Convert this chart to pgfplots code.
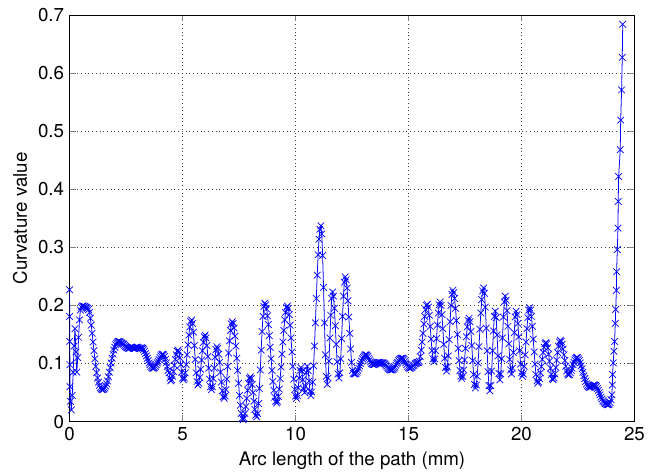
\documentclass[border=0pt]{standalone}
\usepackage{fontspec}
\setmainfont{TeX Gyre Heros}
\usepackage{pgfplots}
\pgfplotsset{compat=1.18}
\begin{document}
\begin{tikzpicture}
\begin{axis}[
  scale only axis,
  width=362.2pt, height=260.7pt,
  xmin=0, xmax=25, ymin=0, ymax=0.7,
  xtick={0,5,10,15,20,25},
  ytick={0,0.1,0.2,0.3,0.4,0.5,0.6,0.7},
  tick align=inside, xtick pos=both, ytick pos=both,
  major tick length=4pt,
  grid=major,
  major grid style={dotted, black!75, line width=0.5pt},
  axis line style={line width=0.5pt},
  /pgf/number format/assume math mode=true,
  ticklabel style={font=\fontsize{12}{14}\selectfont},
  label style={font=\fontsize{12}{14}\selectfont},
  xlabel={Arc length of the path (mm)},
  ylabel={Curvature value},
]
\addplot[color=blue, mark=x, mark size=3pt, line width=0.5pt, mark options={line width=0.45pt}] table {
x y
0.000 0.227
0.005 0.181
0.010 0.138
0.015 0.098
0.020 0.060
0.04 0.035
0.08 0.020
0.12 0.045
0.16 0.085
0.20 0.130
0.24 0.160
0.28 0.120
0.32 0.085
0.36 0.110
0.40 0.145
0.44 0.175
0.48 0.192
0.52 0.197
0.56 0.199
0.60 0.199
0.64 0.198
0.68 0.198
0.72 0.197
0.76 0.196
0.80 0.195
0.84 0.193
0.88 0.188
0.92 0.178
0.96 0.166
1.00 0.152
1.04 0.137
1.08 0.122
1.12 0.108
1.16 0.095
1.20 0.084
1.24 0.075
1.28 0.068
1.32 0.062
1.36 0.058
1.40 0.056
1.44 0.055
1.48 0.055
1.52 0.056
1.56 0.058
1.60 0.061
1.64 0.065
1.68 0.070
1.72 0.077
1.76 0.085
1.80 0.093
1.84 0.101
1.88 0.109
1.92 0.116
1.96 0.123
2.00 0.128
2.04 0.132
2.08 0.135
2.12 0.137
2.16 0.138
2.20 0.138
2.24 0.137
2.28 0.136
2.32 0.135
2.36 0.134
2.40 0.133
2.44 0.131
2.48 0.129
2.52 0.128
2.56 0.127
2.60 0.126
2.64 0.126
2.68 0.127
2.72 0.128
2.76 0.128
2.80 0.127
2.84 0.126
2.88 0.126
2.92 0.127
2.96 0.128
3.00 0.128
3.04 0.127
3.08 0.126
3.12 0.126
3.16 0.127
3.20 0.127
3.24 0.126
3.28 0.124
3.32 0.121
3.36 0.117
3.40 0.113
3.44 0.109
3.48 0.105
3.52 0.101
3.56 0.098
3.60 0.095
3.64 0.093
3.68 0.092
3.72 0.092
3.76 0.093
3.80 0.095
3.84 0.098
3.88 0.101
3.92 0.104
3.96 0.107
4.00 0.110
4.04 0.113
4.08 0.115
4.12 0.116
4.16 0.115
4.20 0.112
4.24 0.107
4.28 0.101
4.32 0.095
4.36 0.088
4.40 0.084
4.44 0.075
4.48 0.070
4.52 0.072
4.56 0.078
4.60 0.086
4.64 0.097
4.68 0.107
4.72 0.115
4.76 0.121
4.80 0.123
4.84 0.120
4.88 0.110
4.92 0.098
4.96 0.085
5.00 0.075
5.04 0.072
5.08 0.075
5.12 0.084
5.16 0.098
5.20 0.115
5.24 0.132
5.28 0.149
5.32 0.163
5.36 0.172
5.40 0.175
5.44 0.169
5.48 0.154
5.52 0.131
5.56 0.107
5.60 0.084
5.64 0.069
5.68 0.063
5.72 0.066
5.76 0.076
5.80 0.090
5.84 0.106
5.88 0.122
5.92 0.136
5.96 0.146
6.00 0.149
6.04 0.144
6.08 0.131
6.12 0.112
6.16 0.092
6.20 0.073
6.24 0.060
6.28 0.055
6.32 0.060
6.36 0.074
6.40 0.092
6.44 0.111
6.48 0.124
6.52 0.129
6.56 0.126
6.60 0.116
6.64 0.102
6.68 0.085
6.72 0.068
6.76 0.053
6.80 0.043
6.84 0.040
6.88 0.044
6.92 0.055
6.96 0.073
7.00 0.095
7.04 0.118
7.08 0.139
7.12 0.157
7.16 0.168
7.20 0.172
7.24 0.169
7.28 0.161
7.32 0.147
7.36 0.130
7.40 0.109
7.44 0.088
7.48 0.066
7.52 0.045
7.56 0.028
7.60 0.014
7.64 0.006
7.68 0.003
7.72 0.006
7.76 0.014
7.80 0.026
7.84 0.040
7.88 0.054
7.92 0.066
7.96 0.074
8.00 0.077
8.04 0.074
8.08 0.064
8.12 0.050
8.16 0.035
8.20 0.021
8.24 0.011
8.28 0.008
8.32 0.014
8.36 0.031
8.40 0.057
8.44 0.089
8.48 0.123
8.52 0.155
8.56 0.181
8.60 0.198
8.64 0.204
8.68 0.201
8.72 0.194
8.76 0.182
8.80 0.167
8.84 0.148
8.88 0.128
8.92 0.108
8.96 0.088
9.00 0.069
9.04 0.054
9.08 0.042
9.12 0.035
9.16 0.032
9.20 0.035
9.24 0.043
9.28 0.056
9.32 0.074
9.36 0.094
9.40 0.116
9.44 0.137
9.48 0.157
9.52 0.175
9.56 0.188
9.60 0.196
9.64 0.199
9.68 0.195
9.72 0.184
9.76 0.166
9.80 0.144
9.84 0.120
9.88 0.095
9.92 0.073
9.96 0.055
10.00 0.044
10.04 0.040
10.08 0.045
10.12 0.058
10.16 0.075
10.20 0.088
10.24 0.093
10.28 0.087
10.32 0.072
10.36 0.056
10.40 0.050
10.44 0.061
10.48 0.084
10.52 0.095
10.56 0.088
10.60 0.070
10.64 0.052
10.68 0.045
10.72 0.051
10.76 0.068
10.80 0.096
10.84 0.130
10.88 0.170
10.92 0.212
10.96 0.252
11.00 0.287
11.04 0.314
11.08 0.331
11.12 0.337
11.16 0.323
11.20 0.286
11.24 0.231
11.28 0.170
11.32 0.115
11.36 0.078
11.40 0.064
11.44 0.075
11.48 0.104
11.52 0.144
11.56 0.183
11.60 0.212
11.64 0.223
11.68 0.216
11.72 0.195
11.76 0.165
11.80 0.133
11.84 0.103
11.88 0.082
11.92 0.075
11.96 0.084
12.00 0.108
12.04 0.143
12.08 0.181
12.12 0.216
12.16 0.240
12.20 0.249
12.24 0.244
12.28 0.230
12.32 0.208
12.36 0.180
12.40 0.152
12.44 0.125
12.48 0.102
12.52 0.088
12.56 0.083
12.60 0.082
12.64 0.082
12.68 0.083
12.72 0.085
12.76 0.088
12.80 0.092
12.84 0.096
12.88 0.100
12.92 0.104
12.96 0.108
13.00 0.111
13.04 0.113
13.08 0.115
13.12 0.115
13.16 0.114
13.20 0.112
13.24 0.109
13.28 0.106
13.32 0.103
13.36 0.100
13.40 0.099
13.44 0.098
13.48 0.098
13.52 0.099
13.56 0.100
13.60 0.101
13.64 0.102
13.68 0.102
13.72 0.102
13.76 0.101
13.80 0.101
13.84 0.101
13.88 0.101
13.92 0.100
13.96 0.099
14.00 0.097
14.04 0.095
14.08 0.093
14.12 0.091
14.16 0.090
14.20 0.089
14.24 0.089
14.28 0.089
14.32 0.090
14.36 0.092
14.40 0.094
14.44 0.097
14.48 0.100
14.52 0.102
14.56 0.105
14.60 0.107
14.64 0.108
14.68 0.109
14.72 0.109
14.76 0.109
14.80 0.107
14.84 0.104
14.88 0.101
14.92 0.098
14.96 0.095
15.00 0.093
15.04 0.092
15.08 0.092
15.12 0.093
15.16 0.094
15.20 0.096
15.24 0.097
15.28 0.099
15.32 0.100
15.36 0.101
15.40 0.102
15.44 0.102
15.48 0.104
15.52 0.112
15.56 0.123
15.60 0.137
15.64 0.152
15.68 0.168
15.72 0.181
15.76 0.193
15.80 0.200
15.84 0.202
15.88 0.197
15.92 0.183
15.96 0.164
16.00 0.142
16.04 0.122
16.08 0.108
16.12 0.103
16.16 0.108
16.20 0.122
16.24 0.143
16.28 0.166
16.32 0.187
16.36 0.201
16.40 0.206
16.44 0.200
16.48 0.184
16.52 0.160
16.56 0.133
16.60 0.109
16.64 0.093
16.68 0.087
16.72 0.094
16.76 0.113
16.80 0.141
16.84 0.172
16.88 0.200
16.92 0.219
16.96 0.226
17.00 0.222
17.04 0.212
17.08 0.195
17.12 0.174
17.16 0.150
17.20 0.126
17.24 0.105
17.28 0.088
17.32 0.078
17.36 0.074
17.40 0.078
17.44 0.089
17.48 0.106
17.52 0.126
17.56 0.146
17.60 0.163
17.64 0.174
17.68 0.178
17.72 0.172
17.76 0.155
17.80 0.131
17.84 0.105
17.88 0.081
17.92 0.064
17.96 0.058
18.00 0.063
18.04 0.078
18.08 0.101
18.12 0.129
18.16 0.159
18.20 0.187
18.24 0.210
18.28 0.225
18.32 0.230
18.36 0.221
18.40 0.197
18.44 0.161
18.48 0.122
18.52 0.086
18.56 0.062
18.60 0.053
18.64 0.062
18.68 0.087
18.72 0.122
18.76 0.156
18.80 0.181
18.84 0.190
18.88 0.179
18.92 0.149
18.96 0.113
19.00 0.083
19.04 0.072
19.08 0.082
19.12 0.108
19.16 0.144
19.20 0.180
19.24 0.206
19.28 0.216
19.32 0.209
19.36 0.191
19.40 0.164
19.44 0.134
19.48 0.107
19.52 0.089
19.56 0.082
19.60 0.092
19.64 0.119
19.68 0.153
19.72 0.180
19.76 0.190
19.80 0.184
19.84 0.169
19.88 0.146
19.92 0.122
19.96 0.099
20.00 0.084
20.04 0.078
20.08 0.082
20.12 0.095
20.16 0.115
20.20 0.137
20.24 0.160
20.28 0.179
20.32 0.192
20.36 0.196
20.40 0.192
20.44 0.181
20.48 0.164
20.52 0.142
20.56 0.120
20.60 0.099
20.64 0.081
20.68 0.070
20.72 0.066
20.76 0.068
20.80 0.074
20.84 0.084
20.88 0.095
20.92 0.107
20.96 0.119
21.00 0.128
21.04 0.134
21.08 0.136
21.12 0.134
21.16 0.127
21.20 0.116
21.24 0.104
21.28 0.092
21.32 0.081
21.36 0.074
21.40 0.072
21.44 0.075
21.48 0.082
21.52 0.093
21.56 0.106
21.60 0.119
21.64 0.130
21.68 0.137
21.72 0.140
21.76 0.138
21.80 0.133
21.84 0.125
21.88 0.115
21.92 0.105
21.96 0.095
22.00 0.087
22.04 0.082
22.08 0.080
22.12 0.081
22.16 0.084
22.20 0.088
22.24 0.092
22.28 0.098
22.32 0.102
22.36 0.106
22.40 0.109
22.44 0.110
22.48 0.110
22.52 0.108
22.56 0.105
22.60 0.101
22.64 0.096
22.68 0.091
22.72 0.085
22.76 0.079
22.80 0.074
22.84 0.069
22.88 0.065
22.92 0.062
22.96 0.060
23.00 0.059
23.04 0.059
23.08 0.060
23.12 0.061
23.16 0.062
23.20 0.063
23.24 0.063
23.28 0.062
23.32 0.060
23.36 0.057
23.40 0.054
23.44 0.050
23.48 0.046
23.52 0.042
23.56 0.039
23.60 0.036
23.64 0.034
23.68 0.032
23.72 0.031
23.76 0.030
23.80 0.029
23.84 0.029
23.88 0.030
23.92 0.033
23.96 0.038
24.00 0.046
24.02 0.063
24.03 0.081
24.06 0.101
24.09 0.121
24.12 0.138
24.15 0.169
24.17 0.193
24.20 0.226
24.21 0.258
24.24 0.296
24.27 0.333
24.28 0.379
24.30 0.422
24.37 0.468
24.39 0.519
24.43 0.571
24.46 0.627
24.48 0.684
};
\end{axis}
\path (current axis.south west) ++(-44.6pt,-31.6pt) coordinate (bl);
\path (current axis.north east) ++(13.8pt,9.6pt) coordinate (tr);
\path (bl) rectangle (tr);
\end{tikzpicture}
\end{document}
